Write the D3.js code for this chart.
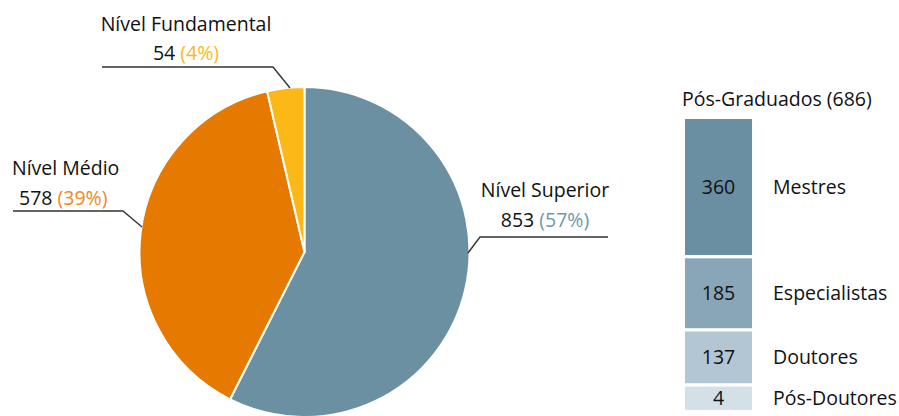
<!DOCTYPE html>
<html><head><meta charset="utf-8">
<script src="https://cdn.jsdelivr.net/npm/d3@7"></script>
<style>body{margin:0;background:#fff}svg{display:block}text{font-family:"Open Sans",sans-serif;fill:#111}</style>
</head><body>
<svg id="c" width="899" height="416"></svg>
<script>
const pieCategories = ["Nível Superior", "Nível Médio", "Nível Fundamental"];
const pieValues = [853, 578, 54];
const piePercents = ["57%", "39%", "4%"];
const pieColors = ["#6b90a2", "#e67a00", "#fbb817"];
const pctColors = ["#6f97ab", "#ee8a1e", "#fbb817"];

const barTitle = "Pós-Graduados (686)";
const barCategories = ["Mestres", "Especialistas", "Doutores", "Pós-Doutores"];
const barValues = [360, 185, 137, 4];
const barColors = ["#6a8fa2", "#88a6b6", "#b2c7d3", "#d3e0e7"];

const FS = 19.5;
const svg = d3.select("#c");
const cx = 304.5, cy = 252, R = 165;

const pie = d3.pie().sort(null).value(d => d)(pieValues);
const arc = d3.arc().innerRadius(0).outerRadius(R);
const g = svg.append("g").attr("transform", `translate(${cx},${cy})`);
g.selectAll("path").data(pie).join("path")
  .attr("d", arc).attr("fill", (d, i) => pieColors[i])
  .attr("stroke", "#fff").attr("stroke-width", 2).attr("stroke-linejoin", "round");

const labelPos = [
  {tx: 545, y1: 197, y2: 227, anchor: "middle", line: [[608, 237], [480, 237]], edge: [468, 253]},
  {tx: 12, y1: 175, y2: 205, anchor: "start", tx2: 19, line: [[13, 211], [123, 211]], edge: [142, 227]},
  {tx: 186, y1: 31, y2: 60, anchor: "middle", line: [[102, 67], [273, 67]], edge: [290, 88]}
];
pie.forEach((d, i) => {
  const p = labelPos[i];
  const pts = p.line.concat([p.edge]);
  svg.append("path").attr("d", d3.line()(pts)).attr("fill", "none")
    .attr("stroke", "#333").attr("stroke-width", 1.4);
  svg.append("text").attr("x", p.tx).attr("y", p.y1).attr("text-anchor", p.anchor)
    .attr("font-size", FS).text(pieCategories[i]);
  const t = svg.append("text").attr("x", p.tx2 || p.tx).attr("y", p.y2).attr("text-anchor", p.anchor)
    .attr("font-size", FS);
  t.append("tspan").text(pieValues[i] + " ");
  t.append("tspan").style("fill", pctColors[i]).text("(" + piePercents[i] + ")");
});

// bar heights: linear scale with a minimum visible height
const hScale = d3.scaleLinear().domain([0, 360]).range([0, 136]);
const minH = 23.3;
const gap = 3.3, bx = 685, bw = 67;
let y = 119;
const bars = barValues.map((v, i) => { const h = Math.max(minH, hScale(v)); const r = {y, h, v, i}; y += h + gap; return r; });
svg.append("text").attr("x", 682).attr("y", 106).attr("font-size", FS).text(barTitle);
svg.selectAll("rect.b").data(bars).join("rect").attr("class", "b")
  .attr("x", bx).attr("y", d => d.y).attr("width", bw).attr("height", d => d.h)
  .attr("fill", d => barColors[d.i]);
svg.selectAll("text.v").data(bars).join("text").attr("class", "v")
  .attr("x", bx + bw / 2).attr("y", d => d.y + d.h / 2).attr("dy", "0.36em")
  .attr("text-anchor", "middle").attr("font-size", FS).text(d => d.v);
svg.selectAll("text.l").data(bars).join("text").attr("class", "l")
  .attr("x", 773).attr("y", d => d.y + d.h / 2).attr("dy", "0.36em")
  .attr("font-size", FS).text(d => barCategories[d.i]);
</script>
</body></html>
